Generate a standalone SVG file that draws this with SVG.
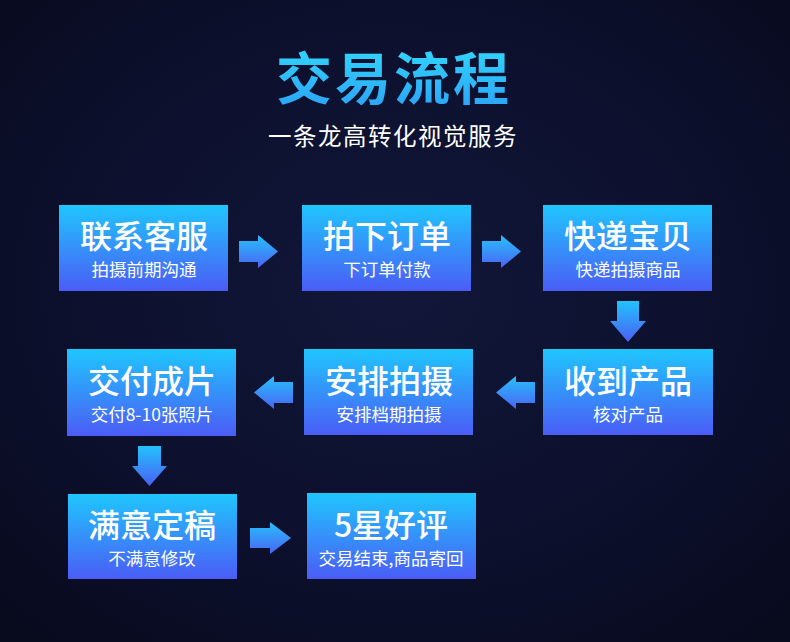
<svg xmlns="http://www.w3.org/2000/svg" width="790" height="642" viewBox="0 0 790 642">
<defs>
<radialGradient id="bg" cx="50%" cy="45%" r="70%">
<stop offset="0" stop-color="#121739"/>
<stop offset="0.6" stop-color="#0c102d"/>
<stop offset="1" stop-color="#080a1e"/>
</radialGradient>
<linearGradient id="box" x1="0" y1="0" x2="0" y2="1">
<stop offset="0" stop-color="#1fc6fe"/>
<stop offset="1" stop-color="#4b5cf6"/>
</linearGradient>
<linearGradient id="arrH" x1="0" y1="0" x2="0" y2="1">
<stop offset="0" stop-color="#27c0fc"/>
<stop offset="1" stop-color="#4a64f4"/>
</linearGradient>
<linearGradient id="arrV" x1="0" y1="0" x2="0" y2="1">
<stop offset="0" stop-color="#22c3fd"/>
<stop offset="1" stop-color="#4b5ff5"/>
</linearGradient>
<linearGradient id="title" x1="0" y1="0" x2="0" y2="1">
<stop offset="0" stop-color="#33e0ff"/>
<stop offset="1" stop-color="#2a9ff5"/>
</linearGradient>
</defs>
<style>
.b{fill:url(#box)}
.t{font-family:"Noto Sans CJK SC","Noto Sans",sans-serif;fill:#fff;text-anchor:middle}
.m{font-size:32px;font-weight:500}
.s{font-size:17.5px}
.ah{fill:url(#arrH)}
.av{fill:url(#arrV)}
</style>
<rect width="790" height="642" fill="url(#bg)"/>
<g id="header">
<text x="394" y="99" font-family="'Noto Sans CJK SC',sans-serif" font-size="56" font-weight="700" fill="url(#title)" text-anchor="middle" letter-spacing="3">交易流程</text>
<text class="t" x="393" y="145" font-size="23.5" letter-spacing="1.5">一条龙高转化视觉服务</text>
</g>
<g id="connectors">
<path class="ah" d="M239,241 H258 V235 L278,251.5 L258,268 V262 H239 Z"/>
<path class="ah" d="M482,241 H501 V235 L521,251.5 L501,268 V262 H482 Z"/>
<path class="av" d="M617,301 H639 V321 H646 L628,342 L610,321 H617 Z"/>
<path class="ah" d="M535,382 H516 V376 L496,392.5 L516,409 V403 H535 Z"/>
<path class="ah" d="M293,382 H274 V376 L254,392.5 L274,409 V403 H293 Z"/>
<path class="av" d="M138,446 H161 V466 H167 L149.5,486 L132,466 H138 Z"/>
<path class="ah" d="M250,528 H270 V522 L291,538 L270,554 V548 H250 Z"/>
</g>
<g id="n1"><rect class="b" x="59" y="205" width="169" height="86"/>
<text class="t m" x="144" y="248">联系客服</text><text class="t s" x="144" y="276">拍摄前期沟通</text></g>
<g id="n2"><rect class="b" x="302" y="205" width="169" height="86"/>
<text class="t m" x="387" y="248">拍下订单</text><text class="t s" x="387" y="276">下订单付款</text></g>
<g id="n3"><rect class="b" x="543" y="205" width="169" height="86"/>
<text class="t m" x="628" y="248">快递宝贝</text><text class="t s" x="628" y="276">快递拍摄商品</text></g>
<g id="n4"><rect class="b" x="543" y="349" width="170" height="86"/>
<text class="t m" x="628" y="393">收到产品</text><text class="t s" x="628" y="421">核对产品</text></g>
<g id="n5"><rect class="b" x="304" y="349" width="169" height="86"/>
<text class="t m" x="389" y="393">安排拍摄</text><text class="t s" x="389" y="421">安排档期拍摄</text></g>
<g id="n6"><rect class="b" x="67" y="349" width="169" height="87"/>
<text class="t m" x="152" y="393">交付成片</text><text class="t s" x="152" y="421">交付8-10张照片</text></g>
<g id="n7"><rect class="b" x="68" y="494" width="169" height="85"/>
<text class="t m" x="152" y="537">满意定稿</text><text class="t s" x="152" y="565">不满意修改</text></g>
<g id="n8"><rect class="b" x="307" y="493" width="169" height="86"/>
<text class="t m" x="391" y="537">5星好评</text><text class="t s" x="391" y="565">交易结束,商品寄回</text></g>
</svg>
